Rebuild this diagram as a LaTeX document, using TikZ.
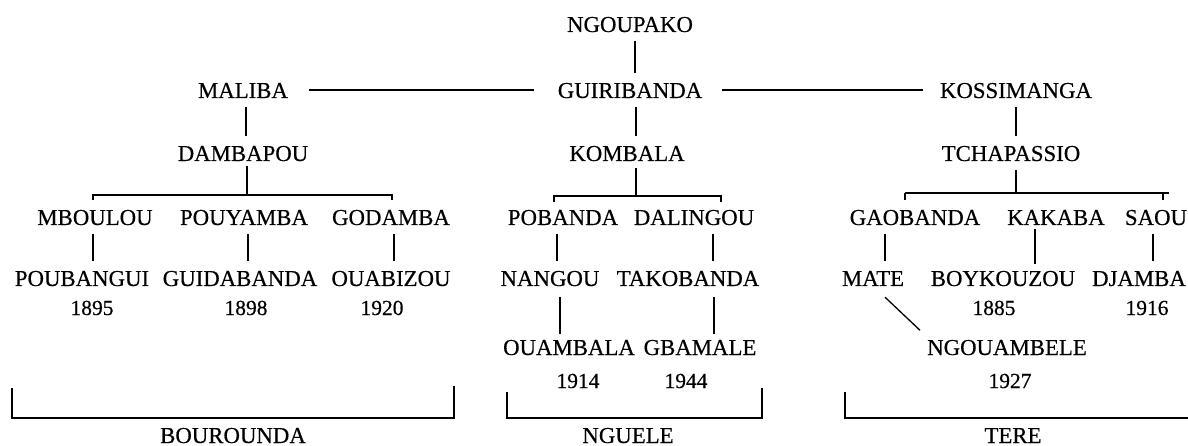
\documentclass[tikz,border=0pt]{standalone}
\usepackage{fontspec}
\setmainfont[FakeBold=0.4]{Liberation Serif}
\usetikzlibrary{calc}
\begin{document}
\begin{tikzpicture}[x=1pt,y=-1pt,
  n/.style={anchor=base, inner sep=0pt, text height=15.5pt, text depth=0pt, font=\fontsize{22.8}{27}\selectfont},
  yr/.style={anchor=base, inner sep=0pt, text height=15pt, text depth=0pt, font=\fontsize{21.5}{26}\selectfont},
  link/.style={line width=1.3pt, shorten <=9pt, shorten >=9pt},
  bar/.style={line width=1.3pt}]
\useasboundingbox (0,0) rectangle (1188,446);
\clip (0,0) rectangle (1188,446);
% row 0-2
\node[n] (ngou) at (630,32) {NGOUPAKO};
\node[n] (mal) at (243,98) {MALIBA};
\node[n] (gui) at (630,98) {GUIRIBANDA};
\node[n] (kos) at (1016,98) {KOSSIMANGA};
\node[n] (damb) at (243,161) {DAMBAPOU};
\node[n] (komb) at (627,161) {KOMBALA};
\node[n] (tcha) at (1011,161) {TCHAPASSIO};
% row 3
\node[n] (mbo) at (95,225) {MBOULOU};
\node[n] (pou) at (244,225) {POUYAMBA};
\node[n] (god) at (391,225) {GODAMBA};
\node[n] (pob) at (563,225) {POBANDA};
\node[n] (dal) at (694,225) {DALINGOU};
\node[n] (gao) at (915,225) {GAOBANDA};
\node[n] (kak) at (1056,225) {KAKABA};
\node[n] (sao) at (1156,225) {SAOU};
% row 4
\node[n] (pbg) at (82,286) {POUBANGUI};
\node[n] (gda) at (240,286) {GUIDABANDA};
\node[n] (oua) at (391,286) {OUABIZOU};
\node[n] (nan) at (550,286) {NANGOU};
\node[n] (tak) at (688,286) {TAKOBANDA};
\node[n] (mat) at (873,286) {MATE};
\node[n] (boy) at (1003,286) {BOYKOUZOU};
\node[n] (dja) at (1139,286) {DJAMBA};
\node[yr] (y1895) at (92,315) {1895};
\node[yr] (y1898) at (246,315) {1898};
\node[yr] (y1920) at (382,315) {1920};
\node[yr] (y1885) at (994,315) {1885};
\node[yr] (y1916) at (1147,315) {1916};
% row 5
\node[n] (ouam) at (569,355) {OUAMBALA};
\node[n] (gbam) at (700,355) {GBAMALE};
\node[n] (ngb) at (1007,355) {NGOUAMBELE};
\node[yr] (y1914) at (578,388) {1914};
\node[yr] (y1944) at (686,388) {1944};
\node[yr] (y1927) at (1010,388) {1927};
% group labels
\node[n] (bou) at (233,443) {BOUROUNDA};
\node[n] (ngu) at (628,443) {NGUELE};
\node[n] (ter) at (1013,443) {TERE};
% horizontal links
\draw[bar] ([xshift=21pt,yshift=8pt]mal.base east) -- ([xshift=-24pt,yshift=8pt]gui.base west);
\draw[bar] ([xshift=20pt,yshift=8pt]gui.base east) -- ([xshift=-17pt,yshift=8pt]kos.base west);
% vertical links
\draw[link] (635,0 |- ngou.south) -- (635,0 |- gui.north);
\draw[link] (246,0 |- mal.south) -- (246,0 |- damb.north);
\draw[link] (636,0 |- gui.south) -- (636,0 |- komb.north);
\draw[link] (1016,0 |- kos.south) -- (1016,0 |- tcha.north);
% sibling brackets
\coordinate (jD) at (247,195);
\draw[bar, shorten <=5pt] (jD |- damb.south) -- (jD);
\draw[bar, shorten <=9pt, shorten >=9pt] (93,0 |- mbo.north) -- (93,195) -- (392,195) -- (392,0 |- god.north);
\coordinate (jK) at (636,196);
\draw[bar, shorten <=7pt] (jK |- komb.south) -- (jK);
\draw[bar, shorten <=7pt, shorten >=7pt] (554,0 |- pob.north) -- (554,196) -- (721,196) -- (721,0 |- dal.north);
\coordinate (jT) at (1016,193);
\draw[bar, shorten <=9pt] (jT |- tcha.south) -- (jT);
\draw[bar] (905,193) -- (1169,193);
\draw[bar, shorten >=9pt] (905,193) -- (905,0 |- gao.north);
\draw[bar, shorten >=9pt] (1163,193) -- (1163,0 |- sao.north);
% row3 -> row4
\draw[link] (93,0 |- mbo.south) -- (93,0 |- pbg.north);
\draw[link] (248,0 |- pou.south) -- (248,0 |- gda.north);
\draw[link] (394,0 |- god.south) -- (394,0 |- oua.north);
\draw[link] (557,0 |- pob.south) -- (557,0 |- nan.north);
\draw[link] (713,0 |- dal.south) -- (713,0 |- tak.north);
\draw[link] (885,0 |- gao.south) -- (885,0 |- mat.north);
\draw[link, shorten <=4pt, shorten >=6pt] (1035,0 |- kak.south) -- (1035,0 |- boy.north);
\draw[link] (1153,0 |- sao.south) -- (1153,0 |- dja.north);
% row4 -> row5
\draw[link, shorten >=5pt, shorten <=11pt] (560,0 |- nan.south) -- (560,0 |- ouam.north);
\draw[link, shorten >=5pt, shorten <=11pt] (714,0 |- tak.south) -- (714,0 |- gbam.north);
\draw[bar] ($(mat.south)+(12,11)$) -- ($(ngb.north)+(-87,-9)$);
% group brackets
\draw[bar] (12,388) -- (12,418) -- (454,418) -- (454,386);
\draw[bar] (507,392) -- (507,418) -- (762,418) -- (762,388);
\draw[bar] (845,392) -- (845,418) -- (1250,418);
\end{tikzpicture}
\end{document}
